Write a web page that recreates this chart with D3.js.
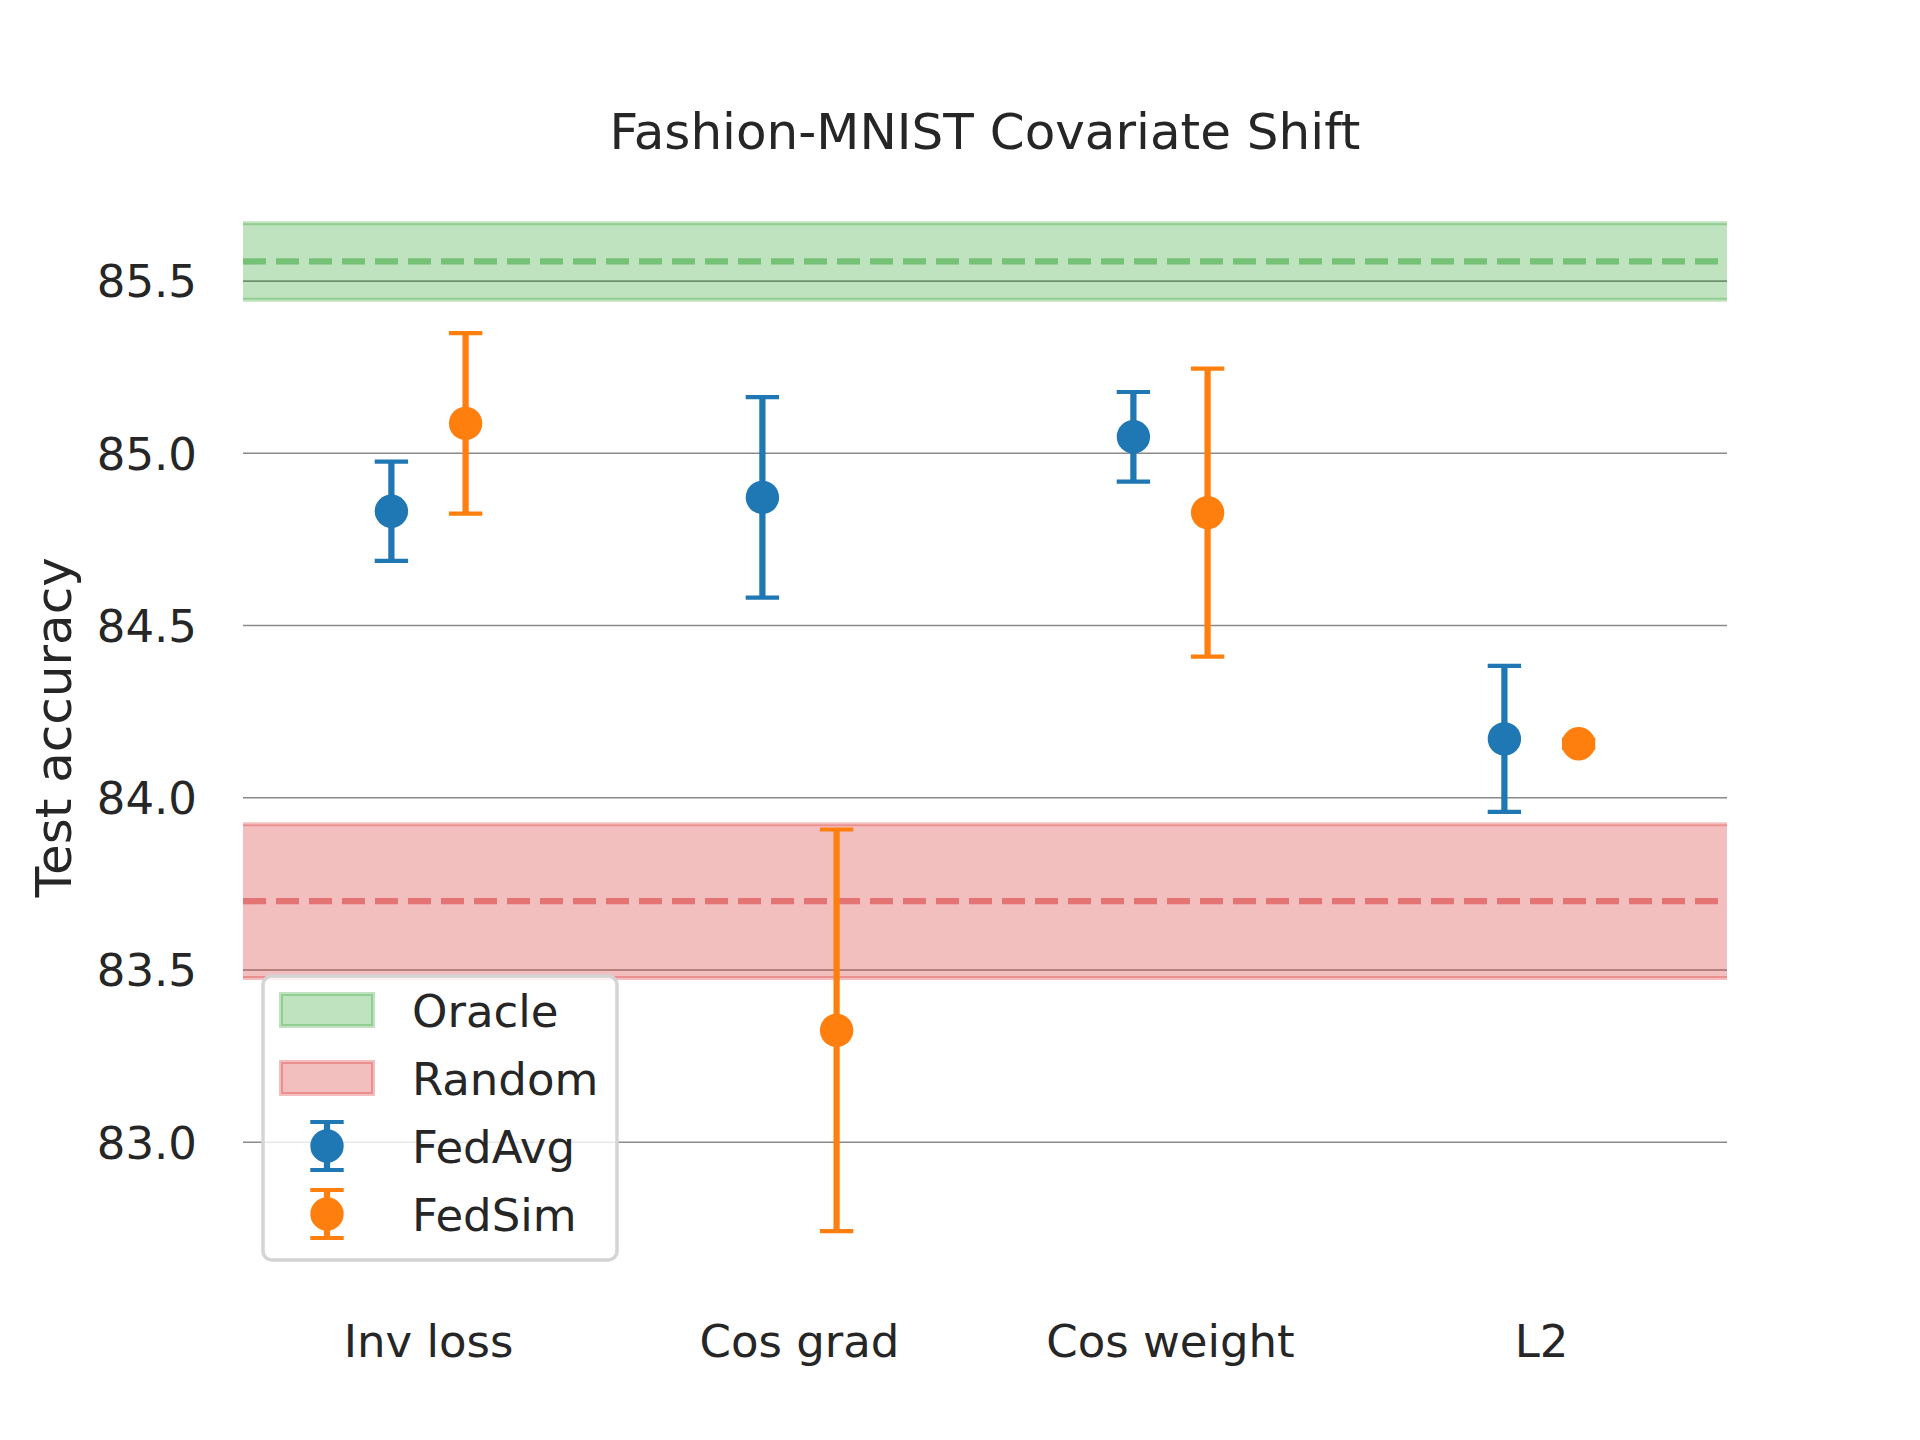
<!DOCTYPE html>
<html>
<head>
<meta charset="utf-8">
<script src="https://cdn.jsdelivr.net/npm/d3@7"></script>
<style>
  body { margin: 0; background: #fff; }
  text { font-family: "DejaVu Sans", sans-serif; fill: #262626; }
</style>
</head>
<body>
<div id="main-vis-wrapper"></div>
<script>
// data
const methods = ["Inv loss", "Cos grad", "Cos weight", "L2"];
const fedAvgMean = [84.832, 84.872, 85.048, 84.171];
const fedAvgErr = [0.144, 0.291, 0.130, 0.212];
const fedSimMean = [85.087, 83.325, 84.828, 84.157];
const fedSimErr = [0.262, 0.583, 0.418, 0.012];
const oracleBand = {mean: 85.557, err: 0.111};
const randomBand = {mean: 83.700, err: 0.223};
const yTicks = [83.0, 83.5, 84.0, 84.5, 85.0, 85.5];

const series = [
  {name: "FedAvg", mean: fedAvgMean, err: fedAvgErr, color: "#1f77b4", shift: -0.1},
  {name: "FedSim", mean: fedSimMean, err: fedSimErr, color: "#ff7f0e", shift: 0.1}
];
const bands = [
  {name: "Oracle", b: oracleBand, color: "#2ca02c"},
  {name: "Random", b: randomBand, color: "#d62728"}
];

function getDimensions() {
  var W = 1920, H = 1440;
  var margin = {top: 172.8, right: 193, bottom: 158.4, left: 243};
  return [W, H, margin];
}

function buildChart() {
  var [W, H, margin] = getDimensions();
  var svg = d3.select("#main-vis-wrapper").append("svg")
    .attr("width", W).attr("height", H);

  // lower and upper limits with 5% padding like matplotlib
  var lo = d3.min(fedAvgMean.map((m, i) => m - fedAvgErr[i]).concat(fedSimMean.map((m, i) => m - fedSimErr[i])));
  lo = Math.min(lo, randomBand.mean - randomBand.err);
  var hi = oracleBand.mean + oracleBand.err;
  var pad = (hi - lo) * 0.05;

  var x = d3.scaleLinear()
    .domain([-0.5, methods.length - 0.5])
    .range([margin.left, W - margin.right]);
  var y = d3.scaleLinear()
    .domain([lo - pad, hi + pad])
    .range([H - margin.bottom, margin.top]);

  var chart = svg.append("g").attr("class", "chart");

  // grid
  chart.append("g").selectAll("line")
    .data(yTicks).enter().append("line")
    .attr("x1", x(-0.5)).attr("x2", x(methods.length - 0.5))
    .attr("y1", d => y(d)).attr("y2", d => y(d))
    .attr("stroke", "#8a8a8a").attr("stroke-width", 1.6);

  // shaded bands + dashed means
  bands.forEach(function(bd) {
    var g = chart.append("g");
    g.append("rect")
      .attr("x", x(-0.5)).attr("width", x(methods.length - 0.5) - x(-0.5))
      .attr("y", y(bd.b.mean + bd.b.err))
      .attr("height", y(bd.b.mean - bd.b.err) - y(bd.b.mean + bd.b.err))
      .attr("fill", bd.color).attr("fill-opacity", 0.3);
    [bd.b.mean + bd.b.err, bd.b.mean - bd.b.err].forEach(function(v) {
      g.append("line")
        .attr("x1", x(-0.5)).attr("x2", x(methods.length - 0.5))
        .attr("y1", y(v)).attr("y2", y(v))
        .attr("stroke", bd.color).attr("stroke-opacity", 0.3).attr("stroke-width", 4);
    });
    g.append("line")
      .attr("x1", x(-0.5)).attr("x2", x(methods.length - 0.5))
      .attr("y1", y(bd.b.mean)).attr("y2", y(bd.b.mean))
      .attr("stroke", bd.color).attr("stroke-opacity", 0.5)
      .attr("stroke-width", 6.25).attr("stroke-dasharray", "23,10");
  });

  // error bars
  var cap = 16.7;
  series.forEach(function(s) {
    var g = chart.append("g");
    var idx = d3.range(methods.length);
    g.selectAll("line.bar").data(idx).enter().append("line")
      .attr("class", "bar")
      .attr("x1", i => x(i + s.shift)).attr("x2", i => x(i + s.shift))
      .attr("y1", i => y(s.mean[i] + s.err[i])).attr("y2", i => y(s.mean[i] - s.err[i]))
      .attr("stroke", s.color).attr("stroke-width", 6.25);
    [1, -1].forEach(function(sg) {
      g.selectAll("line.cap" + sg).data(idx).enter().append("line")
        .attr("x1", i => x(i + s.shift) - cap).attr("x2", i => x(i + s.shift) + cap)
        .attr("y1", i => y(s.mean[i] + sg * s.err[i])).attr("y2", i => y(s.mean[i] + sg * s.err[i]))
        .attr("stroke", s.color).attr("stroke-width", 4.2);
    });
    g.selectAll("circle").data(idx).enter().append("circle")
      .attr("cx", i => x(i + s.shift)).attr("cy", i => y(s.mean[i]))
      .attr("r", 16.7).attr("fill", s.color);
  });

  // axes text
  chart.append("g").selectAll("text")
    .data(yTicks).enter().append("text")
    .attr("x", 197).attr("y", d => y(d))
    .attr("dy", "0.36em").attr("text-anchor", "end")
    .attr("font-size", 45)
    .text(d => d.toFixed(1));
  chart.append("g").selectAll("text")
    .data(methods).enter().append("text")
    .attr("x", (d, i) => x(i)).attr("y", 1357)
    .attr("text-anchor", "middle").attr("font-size", 45)
    .text(d => d);
  chart.append("text")
    .attr("transform", "translate(71," + ((margin.top + H - margin.bottom) / 2) + ") rotate(-90)")
    .attr("text-anchor", "middle").attr("font-size", 50)
    .text("Test accuracy");
  chart.append("text")
    .attr("x", (x(-0.5) + x(methods.length - 0.5)) / 2).attr("y", 149)
    .attr("text-anchor", "middle").attr("font-size", 50)
    .text("Fashion-MNIST Covariate Shift");

  // legend
  var legend = svg.append("g").attr("id", "legend");
  legend.append("rect")
    .attr("x", 263).attr("y", 976).attr("width", 354).attr("height", 284)
    .attr("rx", 9).attr("fill", "#fff").attr("fill-opacity", 0.8)
    .attr("stroke", "#d4d4d4").attr("stroke-width", 3.5);
  var rowY = [1010, 1078, 1146, 1214];
  var gx = 327;
  bands.forEach(function(bd, k) {
    legend.append("rect")
      .attr("x", gx - 46).attr("y", rowY[k] - 16).attr("width", 92).attr("height", 32)
      .attr("fill", bd.color).attr("fill-opacity", 0.3)
      .attr("stroke", bd.color).attr("stroke-opacity", 0.3).attr("stroke-width", 4);
  });
  series.forEach(function(s, k) {
    var cy = rowY[k + 2];
    legend.append("line")
      .attr("x1", gx).attr("x2", gx).attr("y1", cy - 24).attr("y2", cy + 24)
      .attr("stroke", s.color).attr("stroke-width", 6.25);
    [-24, 24].forEach(function(o) {
      legend.append("line")
        .attr("x1", gx - cap).attr("x2", gx + cap).attr("y1", cy + o).attr("y2", cy + o)
        .attr("stroke", s.color).attr("stroke-width", 4.2);
    });
    legend.append("circle").attr("cx", gx).attr("cy", cy).attr("r", 16.7).attr("fill", s.color);
  });
  var names = bands.map(b => b.name).concat(series.map(s => s.name));
  legend.selectAll("text.lab").data(names).enter().append("text")
    .attr("x", 412).attr("y", (d, i) => rowY[i] + 17)
    .attr("font-size", 45)
    .text(d => d);
}

buildChart();
</script>
</body>
</html>
